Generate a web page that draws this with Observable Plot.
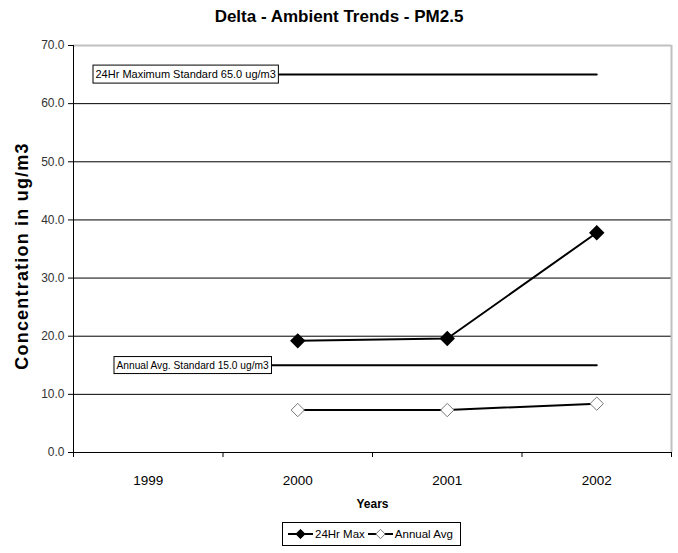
<!DOCTYPE html>
<html>
<head>
<meta charset="utf-8">
<script src="https://cdn.jsdelivr.net/npm/d3@7"></script>
<script src="https://cdn.jsdelivr.net/npm/@observablehq/plot@0.6"></script>
<style>
  body { margin: 0; background: #fff; font-family: "Liberation Sans", Arial, sans-serif; }
  #wrap { width: 678px; height: 553px; position: relative; }
  #title { height: 30px; text-align: center; font-weight: bold; font-size: 17px; line-height: 34px; color: #000; }
  #legend { position: absolute; left: 282px; top: 522px; width: 179px; height: 24px; border: 1px solid #000; box-sizing: border-box; display: flex; align-items: center; font-size: 11.5px; color: #000; white-space: nowrap; }
  #legend svg { flex: none; }
  #legend span { margin-left: 2px; }
  svg text { font-family: "Liberation Sans", Arial, sans-serif; }
  g.ylab text { letter-spacing: 1.2px; }
</style>
</head>
<body>
<div id="wrap">
  <div id="title">Delta - Ambient Trends - PM2.5</div>
  <div id="chart"></div>
  <div id="legend"></div>
</div>
<script>
const years = [1999, 2000, 2001, 2002];
const max24Years = [2000, 2001, 2002];
const max24Values = [19.2, 19.6, 37.8];
const annualYears = [2000, 2001, 2002];
const annualValues = [7.3, 7.3, 8.4];
const yTicks = [0, 10, 20, 30, 40, 50, 60, 70];
const standards = [
  {name: "24Hr Maximum Standard 65.0 ug/m3", value: 65.0},
  {name: "Annual Avg. Standard 15.0 ug/m3", value: 15.0}
];
const seriesNames = ["24Hr Max", "Annual Avg"];
const yLabel = "Concentration in ug/m3";
const xLabel = "Years";

const max24 = max24Years.map((y, i) => ({year: y, value: max24Values[i]}));
const annual = annualYears.map((y, i) => ({year: y, value: annualValues[i]}));
const stdLines = standards.flatMap(s => [
  {name: s.name, year: years[0], value: s.value},
  {name: s.name, year: years[years.length - 1], value: s.value}
]);
const xMin = years[0] - 0.5, xMax = years[years.length - 1] + 0.5;
const yMax = yTicks[yTicks.length - 1];
const boundaries = d3.range(xMin, xMax + 0.01, 1);

const plot = Plot.plot({
  width: 678,
  height: 487,
  marginLeft: 73,
  marginRight: 7,
  marginTop: 15,
  marginBottom: 65,
  style: {background: "#fff", overflow: "visible"},
  x: {domain: [xMin, xMax]},
  y: {domain: [0, yMax]},
  marks: [
    Plot.gridY(yTicks.slice(1, -1), {stroke: "#000", strokeOpacity: 1, strokeWidth: 1}),
    Plot.ruleY([yMax], {stroke: "#c0c0c0", strokeWidth: 2}),
    Plot.ruleX([xMax], {stroke: "#c0c0c0", strokeWidth: 2}),
    Plot.ruleX([xMin], {stroke: "#000", strokeWidth: 1}),
    Plot.ruleY([0], {stroke: "#000", strokeWidth: 1}),
    Plot.axisY(yTicks, {tickSize: 5, tickPadding: 4, tickFormat: d3.format(".1f"), fontSize: 12, fill: "#333", label: null}),
    Plot.axisX(boundaries, {tickSize: 5, tickFormat: () => "", label: null}),
    Plot.axisX(years, {tickSize: 0, tickPadding: 23, tickFormat: d => String(d), fontSize: 13.5, fill: "#000", label: null}),
    Plot.text([xLabel], {frameAnchor: "bottom", dy: 55, fontWeight: "bold", fontSize: 12, fill: "#000"}),
    Plot.text([yLabel], {frameAnchor: "left", textAnchor: "middle", rotate: -90, dx: -51, dy: 7, fontWeight: "bold", fontSize: 18, fill: "#000", className: "ylab"}),
    Plot.line(stdLines, {x: "year", y: "value", z: "name", stroke: "#000", strokeWidth: 2}),
    Plot.text(standards, {x: xMin, y: "value", text: "name", textAnchor: "start", dx: 22, fontSize: 11, fill: "#000", className: "stdlabel",
      filter: (d, i) => i === 0}),
    Plot.text(standards, {x: xMin, y: "value", text: "name", textAnchor: "start", dx: 43, fontSize: 10.2, fill: "#000", className: "stdlabel",
      filter: (d, i) => i === 1}),
    Plot.line(max24, {x: "year", y: "value", stroke: "#000", strokeWidth: 2}),
    Plot.dot(max24, {x: "year", y: "value", symbol: "diamond2", r: 6, fill: "#000", stroke: "#000"}),
    Plot.line(annual, {x: "year", y: "value", stroke: "#000", strokeWidth: 2}),
    Plot.dot(annual, {x: "year", y: "value", symbol: "diamond2", r: 6, fill: "#fff", stroke: "#777", strokeWidth: 1})
  ]
});
document.getElementById("chart").appendChild(plot);

// white boxes behind standard labels, sized from the rendered text
plot.querySelectorAll("g.stdlabel text").forEach(t => {
  const b = t.getBBox();
  const r = document.createElementNS("http://www.w3.org/2000/svg", "rect");
  r.setAttribute("x", b.x - 2.5);
  r.setAttribute("y", b.y - 3);
  r.setAttribute("width", b.width + 5);
  r.setAttribute("height", b.height + 6);
  r.setAttribute("fill", "#fff");
  r.setAttribute("stroke", "#000");
  r.setAttribute("stroke-width", 1);
  const tr = t.getAttribute("transform");
  if (tr) r.setAttribute("transform", tr);
  t.parentNode.insertBefore(r, t);
});

// legend
const legend = d3.select("#legend");
seriesNames.forEach((name, i) => {
  const s = legend.append("svg").attr("width", 25).attr("height", 14).style("margin-left", i === 0 ? "5px" : "3px");
  s.append("line").attr("x1", 0).attr("x2", 25).attr("y1", 7).attr("y2", 7).attr("stroke", "#000").attr("stroke-width", 2);
  s.append("path").attr("d", d3.symbol(d3.symbolDiamond2, 55)()).attr("transform", "translate(12.5,7)")
    .attr("fill", i === 0 ? "#000" : "#fff").attr("stroke", i === 0 ? "#000" : "#777");
  legend.append("span").text(name);
});
</script>
</body>
</html>
